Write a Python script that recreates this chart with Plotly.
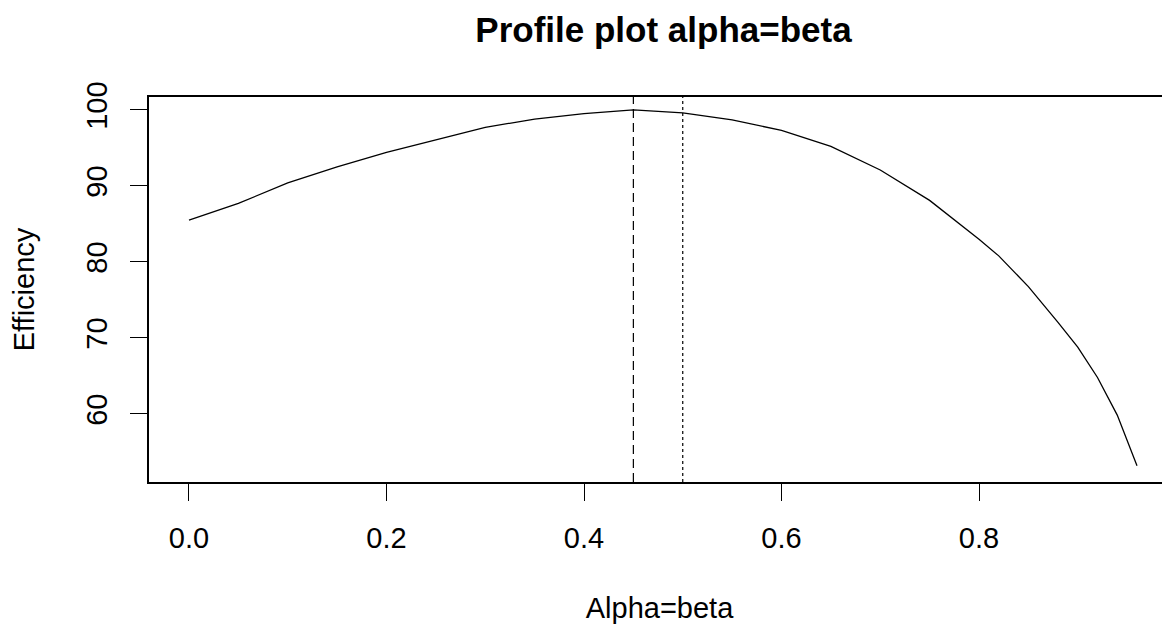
import plotly.graph_objects as go

alpha = [0.00, 0.05, 0.10, 0.15, 0.20, 0.25, 0.30, 0.35, 0.40, 0.45, 0.50,
         0.55, 0.60, 0.65, 0.70, 0.75, 0.78, 0.80, 0.82, 0.85, 0.88, 0.90, 0.92, 0.94, 0.96]
efficiency = [85.5, 87.7, 90.4, 92.5, 94.4, 96.1, 97.7, 98.8, 99.5, 100.0, 99.6,
              98.7, 97.3, 95.2, 92.1, 88.1, 85.1, 83.0, 80.8, 76.75, 72.05, 68.8, 64.8, 59.85, 53.2]
opt_alpha = 0.45
ref_alpha = 0.50
x_ticks = [0.0, 0.2, 0.4, 0.6, 0.8]
x_ticktext = ["0.0", "0.2", "0.4", "0.6", "0.8"]
y_ticks = [60, 70, 80, 90, 100]

FONT = "Liberation Sans, Arial, sans-serif"
W, H = 1162, 622  # page body adds an 8px offset

fig = go.Figure()
fig.add_trace(go.Scatter(x=alpha, y=efficiency, mode="lines",
                         line=dict(color="black", width=1.3), hoverinfo="skip",
                         showlegend=False))

fig.add_shape(type="line", x0=opt_alpha, x1=opt_alpha, y0=0, y1=1, xref="x", yref="paper",
              line=dict(color="black", width=1.2, dash="9px,5px"))
fig.add_shape(type="line", x0=ref_alpha, x1=ref_alpha, y0=0, y1=1, xref="x", yref="paper",
              line=dict(color="black", width=1.2, dash="3px,3px"))

fig.update_layout(
    width=W, height=H,
    margin=dict(l=141, r=0, t=89, b=148, autoexpand=False),
    paper_bgcolor="white", plot_bgcolor="white",
    font=dict(family=FONT, color="black", size=29),
    title=dict(text="<b>Profile plot alpha=beta</b>", x=(663.5 - 8) / W, xanchor="center",
               y=1 - 22 / H, yanchor="middle", yref="container",
               font=dict(family=FONT, size=35, color="black")),
    xaxis=dict(range=[-0.0405, (1170 - 189) / 987.5], tickvals=x_ticks, ticktext=x_ticktext,
               automargin=False,
               showgrid=False, zeroline=False, showline=True, linecolor="black", linewidth=1.5,
               mirror=True, ticks="outside", ticklen=17, tickwidth=1.3, tickcolor="black",
               ticklabelstandoff=12,
               title=dict(text="Alpha=beta", standoff=45, font=dict(size=29))),
    yaxis=dict(range=[51.05, 101.7], tickvals=y_ticks, showgrid=False, zeroline=False,
               automargin=False,
               showline=True, linecolor="black", linewidth=1.5, mirror=False,
               ticks="outside", ticklen=17, tickwidth=1.3, tickcolor="black",
               tickangle=-90, ticklabelstandoff=12,
               title=dict(text="Efficiency", standoff=43, font=dict(size=29))),
)

fig.write_html("out.html")
